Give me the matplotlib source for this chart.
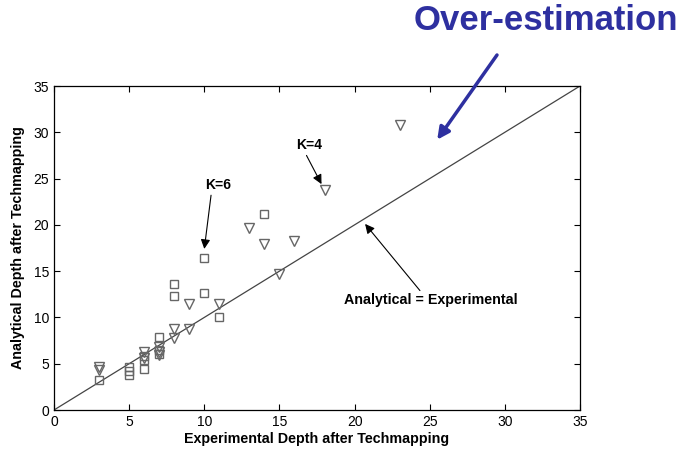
import matplotlib
matplotlib.use("Agg")
import matplotlib.pyplot as plt
import numpy as np

plt.rcParams['font.family'] = ['Liberation Sans', 'DejaVu Sans']

# K=6 results (squares)
k6_x = [3, 5, 5, 5, 6, 6, 6, 7, 7, 7, 8, 8, 10, 10, 11, 14]
k6_y = [3.2, 4.6, 4.2, 3.8, 4.4, 5.4, 5.8, 7.9, 6.5, 6.0, 13.6, 12.3, 16.4, 12.6, 10.1, 21.2]

# K=4 results (triangles)
k4_x = [3, 3, 6, 6, 7, 7, 7, 8, 8, 9, 9, 11, 13, 14, 15, 16, 18, 23]
k4_y = [4.6, 4.3, 6.3, 5.6, 6.8, 6.3, 5.9, 8.7, 7.8, 11.4, 8.8, 11.4, 19.7, 17.9, 14.7, 18.3, 23.8, 30.8]

ticks = [0, 5, 10, 15, 20, 25, 30, 35]

fig = plt.figure(figsize=(6.84, 4.53), dpi=100)
ax = fig.add_axes([54/684, 43/453, 526/684, 324/453])

ax.plot([0, 35], [0, 35], color='#444444', lw=0.9)
ax.plot(k6_x, k6_y, linestyle='none', marker='s', markersize=6,
        markerfacecolor='none', markeredgecolor='#666666', markeredgewidth=1.0)
ax.plot(k4_x, k4_y, linestyle='none', marker='v', markersize=7.5,
        markerfacecolor='none', markeredgecolor='#666666', markeredgewidth=1.0)

ax.set_xlim(0, 35)
ax.set_ylim(0, 35)
ax.set_xticks(ticks)
ax.set_yticks(ticks)
ax.tick_params(direction='in', top=True, right=True, length=4, labelsize=10, width=0.8)
for s in ax.spines.values():
    s.set_linewidth(0.9)
ax.set_xlabel('Experimental Depth after Techmapping', fontsize=10.3, fontweight='bold', labelpad=2)
ax.set_ylabel('Analytical Depth after Techmapping', fontsize=10.3, fontweight='bold', labelpad=6)

arrow_k = dict(arrowstyle='-|>', color='black', lw=0.8, mutation_scale=14, shrinkA=0, shrinkB=0)
ax.text(10.9, 24.3, 'K=6', fontsize=10, fontweight='bold', ha='center', va='center')
ax.annotate('', xy=(10.0, 17.4), xytext=(10.45, 23.2), arrowprops=arrow_k)
ax.text(17.0, 28.6, 'K=4', fontsize=10, fontweight='bold', ha='center', va='center')
ax.annotate('', xy=(17.8, 24.4), xytext=(16.8, 27.5), arrowprops=arrow_k)
ax.text(25.1, 11.9, 'Analytical = Experimental', fontsize=10.3, fontweight='bold', ha='center', va='center')
ax.annotate('', xy=(20.7, 20.1), xytext=(24.35, 12.9), arrowprops=arrow_k)

blue = '#2E30A0'
fig.text(546/684, 1 - 21/453, 'Over-estimation', fontsize=25, fontweight='bold',
         color=blue, ha='center', va='center')
ax.annotate('', xy=(25.5, 29.2), xycoords='data',
            xytext=(497/684, 1 - 55/453), textcoords='figure fraction',
            arrowprops=dict(arrowstyle='-|>', color=blue, lw=2.5, mutation_scale=18,
                            shrinkA=0, shrinkB=0), annotation_clip=False)

fig.savefig('out.png', dpi=100)
